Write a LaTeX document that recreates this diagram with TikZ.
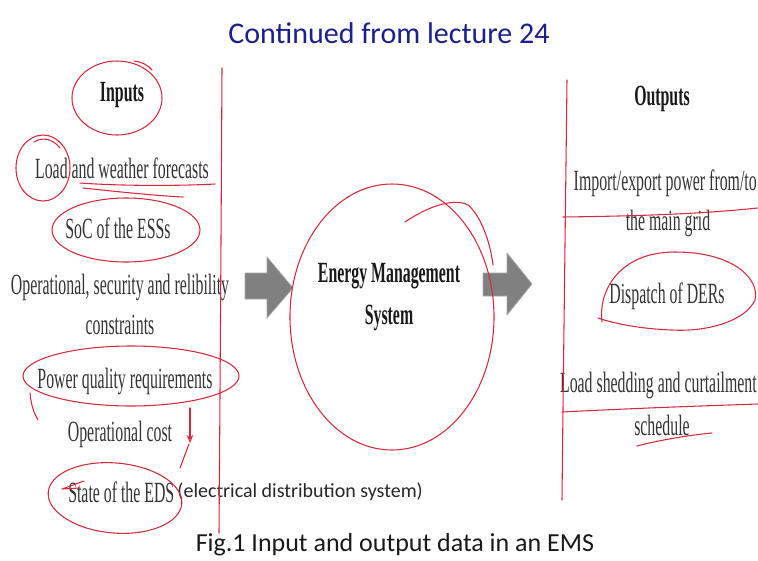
\documentclass[tikz,border=0pt]{standalone}
\usepackage{fontspec}
\setmainfont{Liberation Serif}[FakeStretch=0.54]
\newfontfamily\calfont{Carlito}
\usetikzlibrary{arrows.meta}
\definecolor{ink}{RGB}{215,40,60}
\definecolor{navy}{RGB}{30,30,140}
\definecolor{blockgray}{RGB}{128,128,128}
\begin{document}
\begin{tikzpicture}[x=0.75pt,y=-0.75pt,
  txt/.style={font=\fontsize{22}{24}\selectfont, text=black!80, inner sep=0pt},
  bold/.style={font=\fontsize{22}{24}\selectfont\bfseries, text=black!90, inner sep=0pt},
  cal/.style={font=\calfont\fontsize{15}{17}\selectfont, text=black!85, inner sep=0pt},
  ink/.style={draw=ink, line width=0.8pt, line cap=round, line join=round},
  blockarrow/.style={fill=blockgray, draw=gray!70, line width=0.5pt}]
\path[use as bounding box] (0,0) rectangle (758,561);
% titles
\node[font=\calfont\fontsize{22.5}{26}\selectfont, text=navy, inner sep=0pt] (title) at (389,33) {Continued from lecture 24};
\node[font=\calfont\fontsize{19.5}{22}\selectfont, text=black!90, inner sep=0pt] (cap) at (395,545) {Fig.1 Input and output data in an EMS};
% inputs
\node[bold] (inputs) at (122,95) {Inputs};
\node[txt] (load) at (122,168) {Load and weather forecasts};
\node[txt] (soc) at (118,228) {SoC of the ESSs};
\node[txt] (ops1) at (120,287) {Operational, security and relibility};
\node[txt] (ops2) at (120,325) {constraints};
\node[txt] (pq) at (125,381) {Power quality requirements};
\node[txt] (cost) at (120,434) {Operational cost};
\node[txt, anchor=west] (eds) at (68,492) {State of the EDS};
\node[cal, anchor=west] (edsx) at ([xshift=2pt]eds.east) {(electrical distribution system)};
% EMS
\node[bold] (ems1) at (389,276) {Energy Management};
\node[bold] (ems2) at (389,318) {System};
% outputs
\node[bold] (outputs) at (662,99) {Outputs};
\node[txt, anchor=east] (imp) at (757,183) {Import/export power from/to};
\node[txt] (grid) at (668,223) {the main grid};
\node[txt] (der) at (667,296) {Dispatch of DERs};
\node[txt, anchor=east] (shed) at (757,385) {Load shedding and curtailment};
\node[txt] (sched) at (662,425) {schedule};
% block arrows
\filldraw[blockarrow] (245,273) -- (267,273) -- (267,257) -- (293,288) -- (267,318) -- (267,299) -- (245,299) -- cycle;
\filldraw[blockarrow] (483,273) -- (507,273) -- (507,253) -- (532,284) -- (507,315) -- (507,296) -- (483,296) -- cycle;
% red annotations
\draw[ink] (117,98) ellipse (45 and 37);
\draw[ink] (134,61) .. controls (142,62) and (148,65) .. (152,70);
\draw[ink] (222,68) .. controls (221,250) and (220,400) .. (219,533);
\draw[ink] (567,80) .. controls (565,250) and (563,400) .. (562,500);
\draw[ink] (43,168) ellipse (27 and 33);
\draw[ink] (34,142) .. controls (42,137) and (52,138) .. (60,148);
\draw[ink] (80,183) .. controls (120,186) and (180,186) .. (215,184);
\draw[ink] (83,188) .. controls (120,192) and (160,196) .. (183,197);
\draw[ink] (126,230) ellipse (74 and 32);
\draw[ink] (131,376) ellipse (108 and 30);
\draw[ink] (30,393) .. controls (31,405) and (34,413) .. (38,420);
\draw[ink, -{Stealth[length=6pt,width=5pt,open]}] (190,408) -- (190,443);
\draw[ink] (189,444) -- (180,468);
\draw[ink, rotate around={-5:(115,498)}] (115,498) ellipse (67 and 35);
\draw[ink] (84,481) -- (62,489) -- (80,488);
\draw[ink] (392,317) ellipse (102 and 133);
\draw[ink] (405,222) .. controls (430,205) and (455,198) .. (468,205) .. controls (480,215) and (490,240) .. (493,265);
\draw[ink] (563,217) .. controls (640,216) and (700,214) .. (758,208);
\draw[ink] (602,322) .. controls (598,290) and (620,252) .. (675,252) .. controls (735,252) and (760,280) .. (755,300) .. controls (745,322) and (705,332) .. (672,330) .. controls (640,329) and (612,323) .. (598,318);
\draw[ink] (562,412) .. controls (640,408) and (700,406) .. (758,404);
\draw[ink] (637,446) .. controls (660,440) and (690,435) .. (712,433);
\end{tikzpicture}
\end{document}
